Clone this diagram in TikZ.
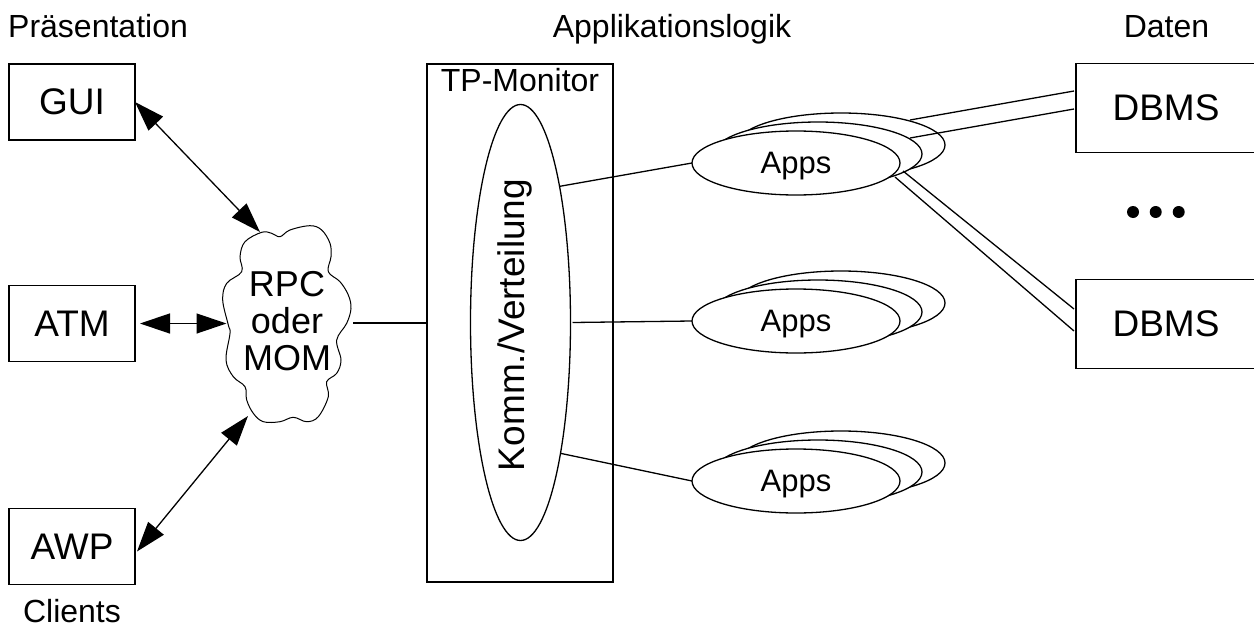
\documentclass[tikz,border=0pt]{standalone}
\usepackage{fontspec}
\setmainfont{Liberation Sans}
\usetikzlibrary{arrows.meta,shapes.geometric}
\newcommand{\fs}[1]{\fontsize{#1}{#1}\selectfont}
\tikzset{
  x=1pt,y=-1pt,
  ln/.style={draw=black,line width=1.3pt},
  thin ln/.style={draw=black,line width=1pt},
  box/.style={ln,fill=white,rectangle,minimum width=126pt,minimum height=76pt,inner sep=0pt,outer sep=0pt,font=\fs{37}},
  dbbox/.style={ln,fill=white,rectangle,minimum width=190pt,minimum height=89pt,inner sep=0pt,outer sep=0pt},
  appell/.style={ln,fill=white,ellipse,minimum width=208pt,minimum height=64pt,inner sep=0pt,outer sep=0pt,font=\fs{31},text depth=0pt},
  hdr/.style={inner sep=0pt,font=\fs{32}},
  biarrow/.style={draw=black,line width=1.3pt,{Triangle[length=30pt,width=20pt]}-{Triangle[length=30pt,width=20pt]}},
  conn/.style={draw=black,line width=1.3pt},
  dotm/.style={circle,fill=black,minimum size=12pt,inner sep=0pt},
}
\begin{document}
\begin{tikzpicture}
\useasboundingbox (0,0) rectangle (1254,624);
% headers
\node[hdr,anchor=base west] (hp) at (8,37) {Präsentation};
\node[hdr,anchor=base] (ha) at (672,37) {Applikationslogik};
\node[hdr,anchor=base] (hd) at (1166.5,37) {Daten};
\node[hdr,anchor=base] (hc) at (72,622) {Clients};
% clients
\node[box] (gui) at (72,102) {GUI};
\node[box] (atm) at (72,323.5) {ATM};
\node[box] (awp) at (72,546.5) {AWP};
% cloud
\draw[thin ln,fill=white] plot[smooth cycle,tension=0.6] coordinates {
(261.7,232.3)(271.7,233.3)(280,236.7)(290,230)(310,225.7)(321.7,230)(330,243.3)(331,256.7)(328.3,271.7)(340,281.7)(348.3,295)(351,308.3)(346.7,323.3)(336.7,340)(341,360)(336.7,373.3)(326.7,381.7)(328.3,396.7)(318.3,416.7)(306.7,421.7)(293.3,417.3)(280,421.7)(263.3,421.7)(253.3,413.3)(246.7,400)(245,386.7)(233.3,376.7)(226,360)(230,333.3)(228.3,325)(222.7,300)(226.7,283.3)(241.7,271.7)(240,256.7)(245,241.7)};
\node[inner sep=0pt,align=center,font=\fontsize{36}{37}\selectfont] (rpc) at (287,321.5) {RPC\\oder\\MOM};
\coordinate (cloudNW) at (260,232);
\coordinate (cloudW) at (226.5,323.5);
\coordinate (cloudSW) at (248,416);
\coordinate (cloudE) at (353,323);
% monitor
\node[ln,fill=white,rectangle,minimum width=186pt,minimum height=518pt,inner sep=0pt,outer sep=0pt] (tp) at (520,323) {};
\node[hdr,anchor=base] (tpl) at (520,91) {TP-Monitor};
\node[ln,fill=white,ellipse,minimum width=100pt,minimum height=436pt,inner sep=0pt,outer sep=0pt] (komm) at (520.5,322.5) {};
\node[inner sep=0pt,font=\fs{37},rotate=90] (kommt) at (515,325) {Komm./Verteilung};
% database boxes
\node[dbbox] (db1) at (1171,108) {};
\node[dbbox] (db2) at (1171,324) {};
\node[inner sep=0pt,font=\fs{37}] (db1t) at (1166,108) {DBMS};
\node[inner sep=0pt,font=\fs{37}] (db2t) at (1166,323.5) {DBMS};
% apps rows
\node[appell] (a3) at (841,145) {};
\coordinate (u1) at (910,120);
\coordinate (u2) at (910,138);
\coordinate (d1) at (903,171);
\coordinate (d2) at (895,177);
\coordinate (v1) at (1074,91);
\coordinate (v2) at (1074,109);
\coordinate (e1) at (1074,309);
\coordinate (e2) at (1074,331);
\draw[conn] (u1) -- (v1);
\draw[conn] (u2) -- (v2);
\node[appell] (a2) at (818,154) {};
\node[appell] (a1) at (796,163) {Apps};
\draw[conn] (d1) -- (e1);
\draw[conn] (d2) -- (e2);
\node[appell] (b3) at (841,303) {};
\node[appell] (b2) at (818,312) {};
\node[appell] (b1) at (796,321) {Apps};
\node[appell] (c3) at (841,463) {};
\node[appell] (c2) at (818,472) {};
\node[appell] (c1) at (796,481) {Apps};
\node[dotm] (dot1) at (1133,212) {};
\node[dotm] (dot2) at (1155.7,212) {};
\node[dotm] (dot3) at (1178.7,212) {};
% connectors
\draw[conn] (cloudE) -- (tp.west);
\draw[conn] (komm.74) -- (a1.west);
\draw[conn] ([xshift=2pt]komm.east) -- (b1.west);
\draw[conn] (komm.-73) -- (c1.west);
\draw[biarrow] (gui.east) -- (cloudNW);
\draw[biarrow] ([xshift=5pt]atm.east) -- (cloudW);
\draw[biarrow] ([shift={(2,5)}]awp.east) -- (cloudSW);
\end{tikzpicture}
\end{document}
